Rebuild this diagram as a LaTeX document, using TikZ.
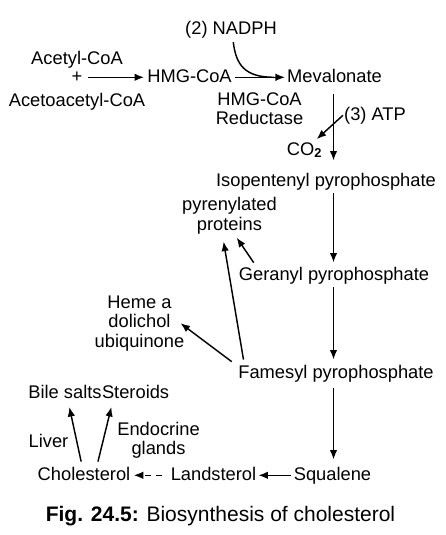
\documentclass[tikz,border=0pt]{standalone}
\usepackage{fontspec}
\setmainfont{Liberation Sans}
\usetikzlibrary{positioning, arrows.meta}

\tikzset{
  lbl/.style={inner sep=1pt, text height=13.3pt, text depth=3.9pt},
  stack/.style={inner sep=1pt, align=center},
  flow/.style={-{Latex[length=9.5pt,width=7.5pt]}, line width=1.45pt},
}

\begin{document}
\begin{tikzpicture}[x=1pt, y=-1pt, font=\fontsize{18.3pt}{19.5pt}\selectfont]
  \useasboundingbox (0,0) rectangle (445,535);

  % first steps
  \node[lbl] (nadph) at (231,30.3) {(2) NADPH};
  \node[lbl] (acetyl) at (77,59.3) {Acetyl-CoA};
  \node[lbl] (plus) at (77,77.3) {+};
  \node[lbl] (acetoacetyl) at (77,101.3) {Acetoacetyl-CoA};
  \node[lbl] (hmg) at (189.5,77.3) {HMG-CoA};
  \node[lbl] (meva) at (334.5,77.3) {Mevalonate};
  \node[stack] (reductase) at (259.5,108.8) {HMG-CoA\\Reductase};
  \node[lbl] (atp) at (375,115.3) {(3) ATP};
  \node[lbl] (co2) at (304.5,150.3) {CO\textsubscript{\textbf{2}}};

  % main chain
  \node[lbl] (iso) at (326,181.3) {Isopentenyl pyrophosphate};
  \node[stack] (pyren) at (229.5,215.7) {pyrenylated\\proteins};
  \node[lbl] (geranyl) at (334,275.3) {Geranyl pyrophosphate};
  \node[stack] (heme) at (139.5,323.2) {Heme a\\dolichol\\ubiquinone};
  \node[lbl] (famesyl) at (336,373.3) {Famesyl pyrophosphate};
  \node[lbl] (squalene) at (332.5,475.3) {Squalene};
  \node[lbl] (landsterol) at (213.5,475.3) {Landsterol};
  \node[lbl] (chol) at (84,475.3) {Cholesterol};

  % products of cholesterol
  \node[lbl, inner xsep=0pt] (bile) at (65,393.3) {Bile salts};
  \node[lbl, inner xsep=0pt, right=0pt of bile] (steroids) {Steroids};
  \node[lbl] (liver) at (48.5,442.3) {Liver};
  \node[stack] (endocrine) at (158.5,440.2) {Endocrine\\glands};

  \node[inner sep=0pt, font=\fontsize{21pt}{24pt}\selectfont] (caption) at (220.5,516.5)
    {\textbf{Fig. 24.5:} Biosynthesis of cholesterol};

  % arrows
  \coordinate (axis) at (333.5,0);
  \draw[flow, shorten <=4.7pt, shorten >=2pt] (plus.east) -- (hmg.west);
  \draw[flow, shorten <=2pt, shorten >=1pt] (hmg.east) -- (meva.west);
  \draw[line width=1.45pt, shorten <=2pt] ([xshift=2pt]nadph.south)
    .. controls +(3,24) and +(-30,0) .. ([xshift=-12pt]meva.west);
  \foreach \a/\b/\s/\e in {meva/iso/7/11, iso/geranyl/2/3, geranyl/famesyl/2/4, famesyl/squalene/5/6}
    \draw[flow, shorten <=\s pt, shorten >=\e pt] (\a.south -| axis) -- (\b.north -| axis);
  \draw[flow, shorten >=2pt] (atp.west) -- ([xshift=-8pt]co2.north east);
  \draw[flow, shorten <=3.5pt, shorten >=3pt] ([xshift=18pt]geranyl.north west) -- ([xshift=5.5pt]pyren.south);
  \draw[flow, shorten <=4pt, shorten >=6.5pt] ([xshift=7pt]famesyl.north west) -- ([xshift=-7pt]pyren.south);
  \draw[flow, shorten <=3pt] ([xshift=-3pt]famesyl.north west) -- ([xshift=-5pt]heme.east);
  \draw[flow, shorten <=2pt, shorten >=1pt] (squalene.west) -- (landsterol.east);
  \draw[flow, dash pattern=on 6pt off 5pt, shorten <=7.7pt, shorten >=2.3pt] (landsterol.west) -- (chol.east);
  \draw[flow, shorten <=4pt, shorten >=4pt] ([xshift=-2pt]chol.north) -- ([xshift=3.5pt]bile.south);
  \draw[flow, shorten <=4pt, shorten >=4pt] ([xshift=13pt]chol.north) -- ([xshift=10.5pt]steroids.south west);
\end{tikzpicture}
\end{document}
